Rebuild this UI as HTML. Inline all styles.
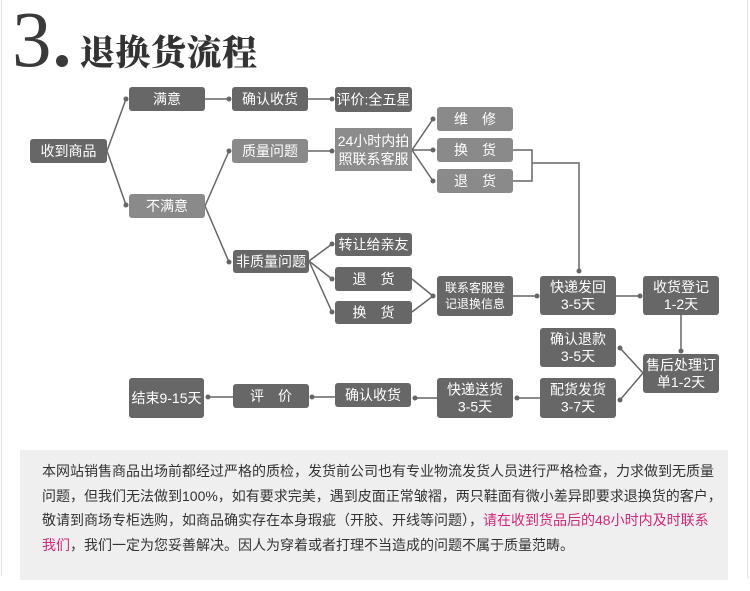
<!DOCTYPE html>
<html><head><meta charset="utf-8">
<style>
html,body{margin:0;padding:0;background:#fff;}
body{width:750px;height:591px;position:relative;overflow:hidden;}
.lb{position:absolute;left:1px;top:0;width:1px;height:576px;background:#e2e2e2;}
.rb{position:absolute;left:747px;top:0;width:1px;height:578px;background:#e2e2e2;}
.three{position:absolute;left:12px;top:-4px;font-family:"Liberation Serif",serif;font-size:79px;line-height:90px;color:#3a3a3a;}
.dot{position:absolute;left:56px;top:55px;width:12px;height:12px;border-radius:50%;background:#3a3a3a;}
.title{position:absolute;left:80px;top:28px;font-family:"Noto Serif CJK SC",serif;font-weight:900;font-size:35px;line-height:46px;color:#333;letter-spacing:0.5px;}
svg{position:absolute;left:0;top:0;}
.box{position:absolute;left:20px;top:450px;width:708px;height:130px;background:#efefef;}
.para{position:absolute;left:42px;top:459px;font-family:"Liberation Sans","Noto Sans CJK SC",sans-serif;font-size:14px;line-height:24.5px;color:#333;white-space:nowrap;}
.pk{color:#d1287a;}
</style></head><body>
<div class="lb"></div><div class="rb"></div>
<div class="three">3</div>
<div class="dot"></div>
<div class="title">退换货流程</div>
<div class="box"></div>
<svg width="750" height="591" viewBox="0 0 750 591" xmlns="http://www.w3.org/2000/svg">
<g stroke="#666" stroke-width="1.5" fill="none">
<path d="M107 151 L126 99"/><path d="M107 151 L126 205"/>
<path d="M205 99 L229 99"/><path d="M308 99 L332 99"/>
<path d="M205 206 L229 151"/><path d="M205 206 L229 262"/>
<path d="M308 151 L332 151"/>
<path d="M412 150 L433 119"/><path d="M412 150 L433 150"/><path d="M412 150 L433 181"/>
<path d="M513 150 L532 150 L532 181 L513 181"/><path d="M532 163 L579 163 L579 271"/>
<path d="M309 261 L332 244"/><path d="M309 261 L332 279"/><path d="M309 261 L332 312"/>
<path d="M412 279 L433 296"/><path d="M412 312 L433 296"/>
<path d="M513 296 L537 296"/><path d="M616 296 L640 296"/>
<path d="M681 315 L681 351"/>
<path d="M643 373 L620 348"/><path d="M643 373 L620 400"/>
<path d="M540 398 L517 398"/><path d="M437 398 L415 398"/>
<path d="M335 397 L312 397"/><path d="M233 397 L208 397"/>
</g>
<g fill="#666">
<circle cx="126" cy="99" r="2.5"/><circle cx="126" cy="205" r="2.5"/>
<circle cx="229" cy="99" r="2.5"/><circle cx="332" cy="99" r="2.5"/>
<circle cx="229" cy="151" r="2.5"/><circle cx="229" cy="262" r="2.5"/>
<circle cx="332" cy="151" r="2.5"/>
<circle cx="433" cy="119" r="2.5"/><circle cx="433" cy="150" r="2.5"/><circle cx="433" cy="181" r="2.5"/>
<circle cx="579" cy="271" r="2.5"/>
<circle cx="332" cy="244" r="2.5"/><circle cx="332" cy="279" r="2.5"/><circle cx="332" cy="312" r="2.5"/>
<circle cx="433" cy="296" r="2.5"/><circle cx="537" cy="296" r="2.5"/><circle cx="640" cy="296" r="2.5"/>
<circle cx="681" cy="351" r="2.5"/>
<circle cx="620" cy="348" r="2.5"/><circle cx="620" cy="400" r="2.5"/>
<circle cx="517" cy="398" r="2.5"/><circle cx="415" cy="398" r="2.5"/>
<circle cx="312" cy="397" r="2.5"/><circle cx="208" cy="397" r="2.5"/>
</g>
<g>
<rect x="30" y="139" width="77" height="24" rx="3" fill="#676767"/>
<rect x="129" y="87" width="76" height="24" rx="3" fill="#676767"/>
<rect x="129" y="194" width="76" height="24" rx="3" fill="#8a8a8a"/>
<rect x="232" y="87" width="76" height="24" rx="3" fill="#676767"/>
<rect x="335" y="87" width="77" height="25" rx="3" fill="#676767"/>
<rect x="232" y="139" width="76" height="24" rx="3" fill="#8a8a8a"/>
<rect x="335" y="128" width="77" height="43" rx="0" fill="#8c8c8c"/>
<rect x="437" y="107" width="76" height="24" rx="3" fill="#8a8a8a"/>
<rect x="437" y="138" width="76" height="24" rx="3" fill="#8a8a8a"/>
<rect x="437" y="169" width="76" height="24" rx="3" fill="#8a8a8a"/>
<rect x="233" y="250" width="76" height="23" rx="3" fill="#676767"/>
<rect x="335" y="233" width="77" height="23" rx="3" fill="#676767"/>
<rect x="335" y="267" width="77" height="24" rx="3" fill="#676767"/>
<rect x="335" y="301" width="77" height="23" rx="3" fill="#676767"/>
<rect x="437" y="276" width="76" height="40" rx="3" fill="#676767"/>
<rect x="540" y="276" width="76" height="39" rx="3" fill="#676767"/>
<rect x="643" y="276" width="76" height="39" rx="3" fill="#676767"/>
<rect x="540" y="328" width="76" height="39" rx="3" fill="#676767"/>
<rect x="643" y="354" width="76" height="39" rx="3" fill="#676767"/>
<rect x="540" y="378" width="76" height="40" rx="3" fill="#676767"/>
<rect x="437" y="378" width="76" height="40" rx="3" fill="#676767"/>
<rect x="335" y="383" width="76" height="24" rx="3" fill="#676767"/>
<rect x="233" y="384" width="76" height="24" rx="3" fill="#676767"/>
<rect x="129" y="378" width="75" height="40" rx="3" fill="#676767"/>
</g>
<g fill="#fff" font-family="Liberation Sans, Noto Sans CJK SC, sans-serif" font-size="14" text-anchor="middle" dominant-baseline="central">
<text x="68.5" y="151">收到商品</text>
<text x="167" y="99">满意</text>
<text x="167" y="206">不满意</text>
<text x="270" y="99">确认收货</text>
<text x="373.5" y="99.5">评价:全五星</text>
<text x="270" y="151">质量问题</text>
<text x="373.5" y="141">24小时内拍</text>
<text x="373.5" y="159">照联系客服</text>
<text x="475" y="119">维　修</text>
<text x="475" y="150">换　货</text>
<text x="475" y="181">退　货</text>
<text x="271" y="261.5">非质量问题</text>
<text x="373.5" y="244.5">转让给亲友</text>
<text x="373.5" y="279">退　货</text>
<text x="373.5" y="312.5">换　货</text>
<text x="475" y="288" font-size="12">联系客服登</text>
<text x="475" y="304" font-size="12">记退换信息</text>
<text x="578" y="287">快递发回</text>
<text x="578" y="304">3-5天</text>
<text x="681" y="287">收货登记</text>
<text x="681" y="304">1-2天</text>
<text x="578" y="339">确认退款</text>
<text x="578" y="356">3-5天</text>
<text x="681" y="365">售后处理订</text>
<text x="681" y="382">单1-2天</text>
<text x="578" y="389.5">配货发货</text>
<text x="578" y="406.5">3-7天</text>
<text x="475" y="389.5">快递送货</text>
<text x="475" y="406.5">3-5天</text>
<text x="373" y="395">确认收货</text>
<text x="271" y="396">评　价</text>
<text x="166.5" y="398">结束9-15天</text>
</g>
</svg>
<div class="para">本网站销售商品出场前都经过严格的质检，发货前公司也有专业物流发货人员进行严格检查，力求做到无质量<br>问题，但我们无法做到100%，如有要求完美，遇到皮面正常皱褶，两只鞋面有微小差异即要求退换货的客户，<br>敬请到商场专柜选购，如商品确实存在本身瑕疵（开胶、开线等问题），<span class="pk">请在收到货品后的48小时内及时联系</span><br><span class="pk">我们</span>，我们一定为您妥善解决。因人为穿着或者打理不当造成的问题不属于质量范畴。</div>
</body></html>
